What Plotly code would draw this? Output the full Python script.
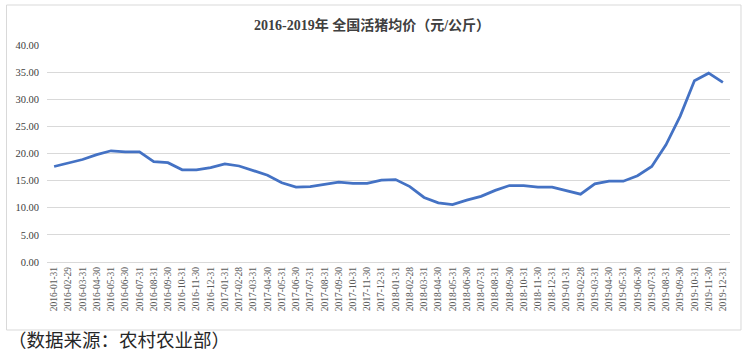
import plotly.graph_objects as go

dates = [
    "2016-01-31","2016-02-29","2016-03-31","2016-04-30","2016-05-31","2016-06-30",
    "2016-07-31","2016-08-31","2016-09-30","2016-10-31","2016-11-30","2016-12-31",
    "2017-01-31","2017-02-28","2017-03-31","2017-04-30","2017-05-31","2017-06-30",
    "2017-07-31","2017-08-31","2017-09-30","2017-10-31","2017-11-30","2017-12-31",
    "2018-01-31","2018-02-28","2018-03-31","2018-04-30","2018-05-31","2018-06-30",
    "2018-07-31","2018-08-31","2018-09-30","2018-10-31","2018-11-30","2018-12-31",
    "2019-01-31","2019-02-28","2019-03-31","2019-04-30","2019-05-31","2019-06-30",
    "2019-07-31","2019-08-31","2019-09-30","2019-10-31","2019-11-30","2019-12-31",
]
prices = [
    17.6, 18.3, 18.9, 19.8, 20.5, 20.3,
    20.3, 18.5, 18.3, 17.0, 17.0, 17.4,
    18.1, 17.7, 16.8, 16.0, 14.6, 13.8,
    13.9, 14.3, 14.7, 14.5, 14.5, 15.1,
    15.2, 13.9, 11.9, 10.9, 10.6, 11.4,
    12.1, 13.2, 14.1, 14.1, 13.8, 13.8,
    13.1, 12.5, 14.4, 14.9, 14.9, 15.9,
    17.6, 21.6, 26.9, 33.4, 34.8, 33.1,
]
y_ticks = [0, 5, 10, 15, 20, 25, 30, 35, 40]
title_text = "2016-2019年 全国活猪均价（元/公斤）"
source_text = "（数据来源：农村农业部）"

W, H = 744, 356
L, R, T, B = 46.5, 14, 45, 94
pw, ph = W - L - R, H - T - B

def px(x):
    return (x - L) / pw

def py(y):
    return (H - B - y) / ph

serif = "Liberation Serif, Noto Sans CJK SC, serif"

fig = go.Figure(go.Scatter(
    x=dates, y=prices, mode="lines",
    line=dict(color="#4472C4", width=2.75),
    hoverinfo="x+y",
))

fig.update_layout(
    width=W, height=H,
    margin=dict(l=L, r=R, t=T, b=B),
    paper_bgcolor="white", plot_bgcolor="white",
    showlegend=False,
    font=dict(family=serif, color="#595959"),
    xaxis=dict(
        type="category", range=[-0.5, len(dates) - 0.5],
        tickangle=-90, tickfont=dict(size=9.5, color="#595959", family=serif),
        showgrid=False, zeroline=False, showline=False, ticks="",
        ticklabelstandoff=2,
    ),
    yaxis=dict(
        range=[0, 40], tickvals=y_ticks,
        ticktext=[f"{v:.2f}" for v in y_ticks],
        tickfont=dict(size=10.5, color="#404040", family=serif),
        showgrid=True, gridcolor="#D9D9D9", gridwidth=1,
        zeroline=True, zerolinecolor="#D9D9D9", zerolinewidth=1,
        showline=False, ticks="", ticklabelstandoff=7,
    ),
    shapes=[dict(
        type="rect", xref="paper", yref="paper",
        x0=px(6), x1=px(741), y0=py(330), y1=py(5),
        line=dict(color="#D9D9D9", width=1), fillcolor="rgba(0,0,0,0)",
        layer="below",
    )],
    annotations=[
        dict(text=f"<b>{title_text}</b>", xref="paper", yref="paper",
             x=px(372), y=py(25), xanchor="center", yanchor="middle",
             showarrow=False, font=dict(size=14, color="#404040", family=serif)),
        dict(text=source_text, xref="paper", yref="paper",
             x=px(5), y=py(341), xanchor="left", yanchor="middle",
             showarrow=False, font=dict(size=18.5, color="#262626", family=serif)),
    ],
)

fig.write_html("out.html", config={"displayModeBar": False},
               post_script="document.body.style.margin='0px';")
